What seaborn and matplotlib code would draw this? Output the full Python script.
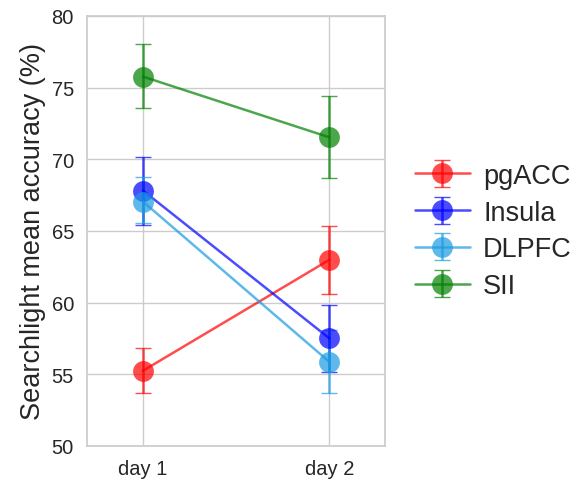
import matplotlib
matplotlib.use("Agg")
import matplotlib.pyplot as plt
import seaborn as sns
import numpy as np

days = ["day 1", "day 2"]
regions = ["pgACC", "Insula", "DLPFC", "SII"]
colors = ["#ff0000", "#0000ff", "#1a9be0", "#008000"]

means = {
    "pgACC": [55.25, 62.98],
    "Insula": [67.82, 57.52],
    "DLPFC": [67.05, 55.88],
    "SII": [75.77, 71.54],
}
lower = {
    "pgACC": [53.68, 60.6],
    "Insula": [65.45, 55.14],
    "DLPFC": [65.55, 53.68],
    "SII": [73.56, 68.68],
}
upper = {
    "pgACC": [56.84, 65.37],
    "Insula": [70.15, 59.86],
    "DLPFC": [68.75, 58.1],
    "SII": [78.03, 74.42],
}

sns.set_theme(style="whitegrid")
plt.rcParams["font.family"] = ["Liberation Sans", "DejaVu Sans"]
plt.rcParams["axes.edgecolor"] = ".8"
plt.rcParams["axes.linewidth"] = 1.25

fig = plt.figure(figsize=(5.73, 4.81), dpi=100)
ax = fig.add_axes([0.152, 0.0707, 0.52, 0.894])

x = np.arange(len(days))
for region, color in zip(regions, colors):
    m = np.array(means[region])
    lo = m - np.array(lower[region])
    hi = np.array(upper[region]) - m
    line, caps, bars = ax.errorbar(
        x, m, yerr=[lo, hi],
        color=color, alpha=0.7,
        marker="o", markersize=15,
        linewidth=1.8, elinewidth=1.8,
        capsize=6, capthick=1,
        label=region
    )
    line.set_markeredgewidth(0)

ax.set_xticks(x)
ax.set_xticklabels(days, fontsize=14.5)
ax.set_xlim(-0.3, 1.3)
ax.set_ylim(50, 80)
ax.set_yticks(range(50, 81, 5))
ax.tick_params(axis="y", labelsize=14.5)
ax.set_ylabel("Searchlight mean accuracy (%)", fontsize=19.5)

ax.legend(
    loc="center left",
    bbox_to_anchor=(1.02, 0.5),
    frameon=False,
    fontsize=19.5,
    numpoints=1,
    handletextpad=0.5,
    labelspacing=0.4
)

fig.savefig("out.png", dpi=100)
